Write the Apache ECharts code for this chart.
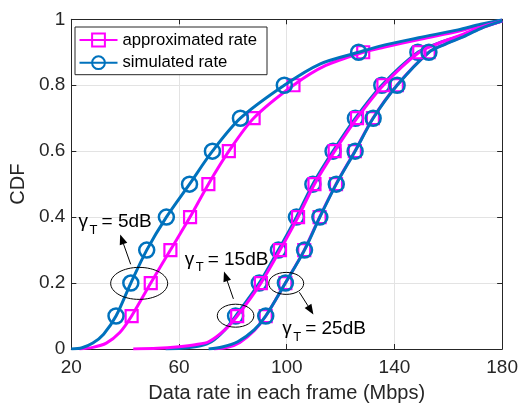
<!DOCTYPE html>
<html>
<head>
<meta charset="utf-8">
<script src="https://cdn.jsdelivr.net/npm/echarts@6/dist/echarts.min.js"></script>
<style>
  html, body { margin: 0; padding: 0; background: #fff; }
  #chart { width: 521px; height: 408px; }
</style>
</head>
<body>
<div id="chart"></div>
<script>
const markerLevels = [0.1, 0.2, 0.3, 0.4, 0.5, 0.6, 0.7, 0.8, 0.9];

// gamma_T = 5dB
const sim5Rate = [20, 24, 28, 32, 36.6, 42.1, 48.0, 55.3, 63.9, 72.4, 82.8, 99.1, 112.5, 126.7, 134.3, 149, 163.6, 172, 180];
const sim5Cdf = [0, 0.004, 0.018, 0.045, 0.1, 0.2, 0.3, 0.4, 0.5, 0.6, 0.7, 0.8, 0.865, 0.9, 0.918, 0.944, 0.968, 0.985, 0.998];
const approx5Rate = [23, 28, 33, 38, 42.4, 49.5, 56.8, 64.1, 70.9, 78.5, 87.7, 102.5, 114.5, 128.4, 136, 150, 164.5, 172.5, 180];
const approx5Cdf = [0, 0.005, 0.018, 0.05, 0.1, 0.2, 0.3, 0.4, 0.5, 0.6, 0.7, 0.8, 0.86, 0.9, 0.915, 0.94, 0.965, 0.983, 0.997];

// gamma_T = 15dB
const sim15Rate = [55, 63, 68, 72, 77.0, 81.0, 89.8, 96.9, 103.6, 109.7, 117.2, 125.5, 135.3, 148.7, 157, 164.6, 172, 180];
const sim15Cdf = [0, 0.004, 0.01, 0.022, 0.058, 0.1, 0.2, 0.3, 0.4, 0.5, 0.6, 0.7, 0.8, 0.9, 0.93, 0.95, 0.975, 0.995];
const approx15Rate = [43, 52, 60, 66, 71, 77.0, 81.6, 90.4, 97.5, 104.2, 110.3, 117.8, 126.1, 135.9, 149.2, 157.2, 164.6, 172, 180];
const approx15Cdf = [0, 0.002, 0.007, 0.013, 0.022, 0.058, 0.1, 0.2, 0.3, 0.4, 0.5, 0.6, 0.7, 0.8, 0.9, 0.93, 0.952, 0.976, 0.995];

// gamma_T = 25dB
const sim25Rate = [71, 76, 81.8, 87.9, 92.2, 99.5, 106.6, 112.3, 118.4, 125.4, 132.1, 141.0, 152.8, 159, 165, 172, 180];
const sim25Cdf = [0, 0.006, 0.022, 0.058, 0.1, 0.2, 0.3, 0.4, 0.5, 0.6, 0.7, 0.8, 0.9, 0.925, 0.945, 0.972, 0.995];
const approx25Rate = [73, 78, 82.6, 88, 92.2, 99.5, 106.5, 112.2, 118.3, 125.3, 132.0, 140.9, 152.7, 158.7, 164.7, 171.8, 180];
const approx25Cdf = [0, 0.005, 0.02, 0.056, 0.1, 0.2, 0.3, 0.4, 0.5, 0.6, 0.7, 0.8, 0.9, 0.925, 0.945, 0.972, 0.995];

const xTicks = [20, 60, 100, 140, 180];
const yTicks = [0, 0.2, 0.4, 0.6, 0.8, 1];

// annotations, in data units: ellipse centre, arrow start/end, label anchor (left, middle)
const notes = [
  { label: "5dB", ellipse: [45.2, 0.199], rx: 28.5, ry: 16, from: [42.05, 0.257], to: [38.15, 0.347], text: [22.7, 0.385] },
  { label: "15dB", ellipse: [81.0, 0.101], rx: 18.3, ry: 11.5, from: [80.2, 0.152], to: [76.7, 0.235], text: [62.1, 0.272] },
  { label: "25dB", ellipse: [99.8, 0.199], rx: 17.5, ry: 11, from: [104.7, 0.172], to: [109.9, 0.105], text: [98.3, 0.062] }
];

const BLUE = "#0072BD";
const MAGENTA = "#FF00FF";
const AXIS = "#262626";
const FONT = "'Liberation Sans', Arial, sans-serif";

const toPoints = (rates, cdfs) =>
  rates.map((r, i) => {
    const isMarker = markerLevels.includes(cdfs[i]);
    return isMarker ? [r, cdfs[i]] : { value: [r, cdfs[i]], symbol: "none" };
  });

const simSeries = (rates, cdfs, z) => ({
  name: "simulated rate",
  type: "line",
  smooth: 0.3,
  symbol: "circle",
  symbolSize: 15,
  lineStyle: { color: BLUE, width: 3 },
  itemStyle: { color: "rgba(0,0,0,0)", borderColor: BLUE, borderWidth: 2.5 },
  emphasis: { disabled: true },
  z: z,
  data: toPoints(rates, cdfs)
});

const approxSeries = (rates, cdfs, z) => ({
  name: "approximated rate",
  type: "line",
  smooth: 0.3,
  symbol: "rect",
  symbolSize: 12,
  lineStyle: { color: MAGENTA, width: 3 },
  itemStyle: { color: "rgba(0,0,0,0)", borderColor: MAGENTA, borderWidth: 2.2 },
  emphasis: { disabled: true },
  z: z,
  data: toPoints(rates, cdfs)
});

var chart = echarts.init(document.getElementById("chart"), null, { renderer: "canvas" });

var option = {
  animation: false,
  textStyle: { fontFamily: FONT },
  grid: { left: 67.7, right: 16, top: 19.3, bottom: 55.7 },
  legend: {
    data: ["approximated rate", "simulated rate"],
    orient: "vertical",
    left: 75,
    top: 27,
    itemWidth: 38,
    itemHeight: 16,
    itemGap: 5.7,
    padding: [4.5, 10, 3.5, 3.5],
    borderColor: AXIS,
    borderWidth: 1,
    backgroundColor: "#fff",
    textStyle: { fontSize: 16.7, color: "#000", fontFamily: FONT },
    selectedMode: false
  },
  xAxis: [
    {
      type: "value",
      min: xTicks[0],
      max: xTicks[xTicks.length - 1],
      interval: xTicks[1] - xTicks[0],
      name: "Data rate in each frame (Mbps)",
      nameLocation: "middle",
      nameGap: 34,
      nameTextStyle: { fontSize: 20, color: AXIS, fontFamily: FONT },
      axisLine: { onZero: false, lineStyle: { color: AXIS, width: 1 } },
      axisTick: { inside: true, length: 5, lineStyle: { color: AXIS } },
      axisLabel: { fontSize: 19, color: AXIS, margin: 9, fontFamily: FONT },
      splitLine: { show: true, lineStyle: { color: "#e3e3e3", width: 1 } }
    },
    {
      type: "value",
      position: "top",
      min: xTicks[0],
      max: xTicks[xTicks.length - 1],
      interval: xTicks[1] - xTicks[0],
      axisLine: { onZero: false, lineStyle: { color: AXIS, width: 1 } },
      axisTick: { inside: true, length: 5, lineStyle: { color: AXIS } },
      axisLabel: { show: false },
      splitLine: { show: false }
    }
  ],
  yAxis: [
    {
      type: "value",
      min: yTicks[0],
      max: yTicks[yTicks.length - 1],
      interval: yTicks[1] - yTicks[0],
      name: "CDF",
      nameLocation: "middle",
      nameGap: 40,
      nameTextStyle: { fontSize: 20, color: AXIS, fontFamily: FONT },
      axisLine: { show: true, onZero: false, lineStyle: { color: AXIS, width: 1 } },
      axisTick: { show: true, inside: true, length: 5, lineStyle: { color: AXIS } },
      axisLabel: { fontSize: 19, color: AXIS, margin: 6, fontFamily: FONT },
      splitLine: { show: true, lineStyle: { color: "#e3e3e3", width: 1 } }
    },
    {
      type: "value",
      position: "right",
      min: yTicks[0],
      max: yTicks[yTicks.length - 1],
      interval: yTicks[1] - yTicks[0],
      axisLine: { show: true, onZero: false, lineStyle: { color: AXIS, width: 1 } },
      axisTick: { show: true, inside: true, length: 5, lineStyle: { color: AXIS } },
      axisLabel: { show: false },
      splitLine: { show: false }
    }
  ],
  series: [
    approxSeries(approx5Rate, approx5Cdf, 2),
    simSeries(sim5Rate, sim5Cdf, 3),
    simSeries(sim15Rate, sim15Cdf, 2),
    approxSeries(approx15Rate, approx15Cdf, 3),
    approxSeries(approx25Rate, approx25Cdf, 2),
    simSeries(sim25Rate, sim25Cdf, 3)
  ]
};

chart.setOption(option);

// annotations: ellipses, arrows and gamma_T labels
const px = (pt) => chart.convertToPixel({ xAxisIndex: 0, yAxisIndex: 0 }, pt);

const arrow = (from, to) => {
  const p0 = px(from), p1 = px(to);
  const dx = p1[0] - p0[0], dy = p1[1] - p0[1];
  const len = Math.hypot(dx, dy);
  const ux = dx / len, uy = dy / len;
  const hl = 10, hw = 4;
  const bx = p1[0] - ux * hl, by = p1[1] - uy * hl;
  return [
    { type: "line", shape: { x1: p0[0], y1: p0[1], x2: bx, y2: by }, style: { stroke: "#000", lineWidth: 1 }, z: 10 },
    { type: "polygon", shape: { points: [p1, [bx - uy * hw, by + ux * hw], [bx + uy * hw, by - ux * hw]] }, style: { fill: "#000" }, z: 10 }
  ];
};

let graphics = [];
notes.forEach((n) => {
  const c = px(n.ellipse);
  graphics.push({
    type: "ellipse",
    shape: { cx: c[0], cy: c[1], rx: n.rx, ry: n.ry },
    style: { fill: "none", stroke: "#000", lineWidth: 1 },
    z: 10
  });
  graphics = graphics.concat(arrow(n.from, n.to));
  const t = px(n.text);
  graphics.push(
    { type: "text", x: t[0], y: t[1], style: { text: "γ", font: "19px " + FONT, fill: "#000", textAlign: "left", textVerticalAlign: "middle" }, z: 10 },
    { type: "text", x: t[0] + 11, y: t[1] + 8.5, style: { text: "T", font: "13px " + FONT, fill: "#000", textAlign: "left", textVerticalAlign: "middle" }, z: 10 },
    { type: "text", x: t[0] + 23, y: t[1], style: { text: "= " + n.label, font: "19px " + FONT, fill: "#000", textAlign: "left", textVerticalAlign: "middle" }, z: 10 }
  );
});

chart.setOption({ graphic: graphics });

window.addEventListener("resize", chart.resize);
</script>
</body>
</html>
